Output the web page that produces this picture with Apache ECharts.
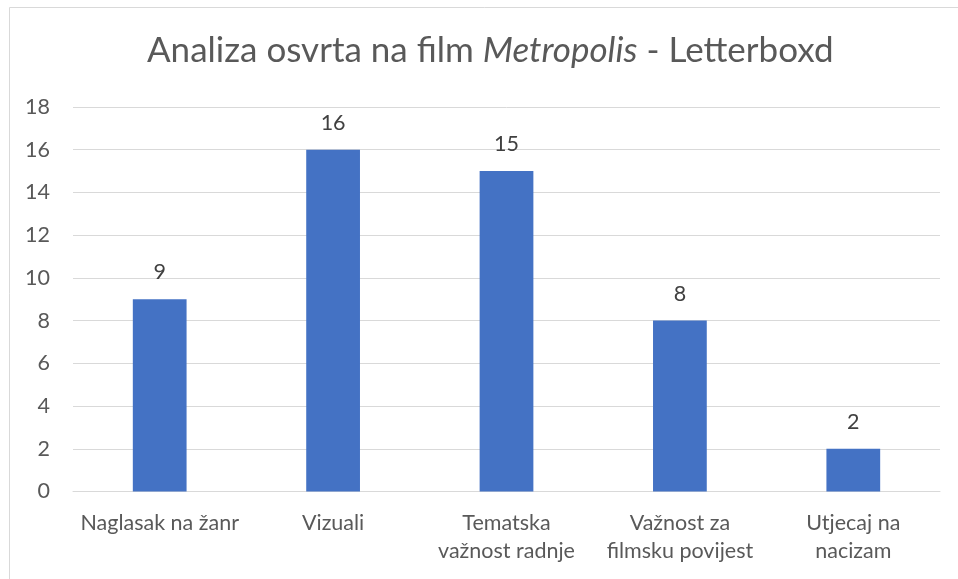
<!DOCTYPE html>
<html>
<head>
<meta charset="utf-8">
<script src="https://cdn.jsdelivr.net/npm/echarts@6/dist/echarts.min.js"></script>
<style>
html,body{margin:0;padding:0;background:#fff;}
#chart{width:958px;height:579px;}
</style>
</head>
<body>
<div id="chart"></div>
<script>
const categories = ["Naglasak na žanr", "Vizuali", "Tematska\nvažnost radnje", "Važnost za\nfilmsku povijest", "Utjecaj na\nnacizam"];
const values = [9, 16, 15, 8, 2];
const yTicks = { min: 0, max: 18, interval: 2 };

const chart = echarts.init(document.getElementById('chart'));
const FONT = 'Lato';
chart.setOption({
  animation: false,
  backgroundColor: '#ffffff',
  title: {
    text: '{a|Analiza osvrta na film }{b|Metropolis}{a| - Letterboxd}',
    left: 147,
    top: 33,
    padding: 0,
    textStyle: {
      rich: {
        a: { fontFamily: FONT, fontSize: 35, color: '#595959', fontWeight: 'normal' },
        b: { fontFamily: FONT, fontSize: 35, color: '#595959', fontStyle: 'italic', fontWeight: 'normal' }
      }
    }
  },
  graphic: [{
    type: 'rect',
    shape: { x: 9.5, y: 7.5, width: 1000, height: 1000 },
    style: { fill: 'none', stroke: '#d9d9d9', lineWidth: 1 },
    silent: true
  }],
  grid: { left: 73, right: 18, top: 107, bottom: 87.5, containLabel: false },
  xAxis: {
    type: 'category',
    data: categories,
    axisLine: { show: true, lineStyle: { color: '#d9d9d9', width: 1 } },
    axisTick: { show: false },
    axisLabel: { fontFamily: FONT, fontSize: 21.5, color: '#595959', margin: 18, lineHeight: 28, interval: 0 }
  },
  yAxis: {
    type: 'value',
    min: yTicks.min, max: yTicks.max, interval: yTicks.interval,
    axisLine: { show: false },
    axisTick: { show: false },
    splitLine: { lineStyle: { color: '#d9d9d9', width: 1 } },
    axisLabel: { fontFamily: FONT, fontSize: 21.5, color: '#595959', margin: 23 }
  },
  series: [{
    type: 'bar',
    data: values,
    barWidth: '31%',
    itemStyle: { color: '#4472C4' },
    label: { show: true, position: 'top', distance: 16, fontFamily: FONT, fontSize: 21.5, color: '#404040' }
  }]
});
</script>
</body>
</html>
